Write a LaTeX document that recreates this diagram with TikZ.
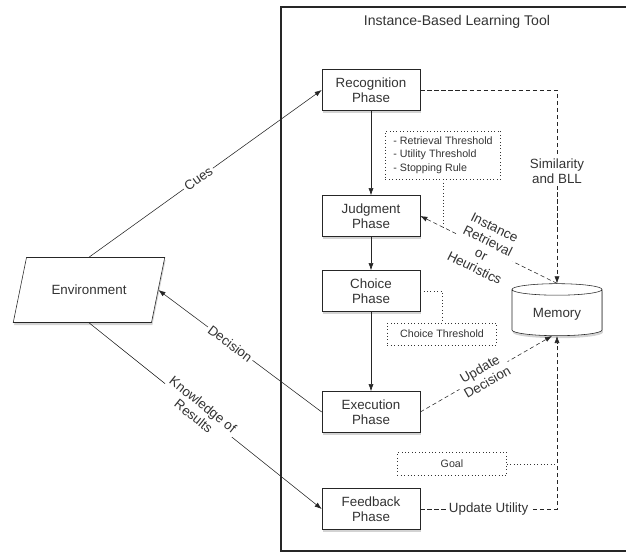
\documentclass[tikz,border=0pt]{standalone}
\usepackage{fontspec}
\setmainfont{Liberation Sans}
\usetikzlibrary{shapes.geometric,shadows,arrows.meta,calc}
\begin{document}
\begin{tikzpicture}[x=0.025cm,y=-0.025cm,
        font=\fontsize{9.5}{10.7}\selectfont, text=black!80,
        phase/.style={draw=black!85, fill=white, align=center, minimum width=2.45cm, minimum height=1.025cm,
            drop shadow={opacity=0.35, shadow xshift=0.6pt, shadow yshift=-1.8pt}},
        envbox/.style={trapezium, trapezium left angle=65, trapezium right angle=115, trapezium stretches=true,
            draw=black!85, fill=white, minimum width=3.8cm, minimum height=1.625cm,
            drop shadow={opacity=0.35, shadow xshift=0.6pt, shadow yshift=-1.8pt}},
        store/.style={cylinder, shape border rotate=90, aspect=0.2, draw=black!85, fill=white,
            minimum width=2.25cm, minimum height=1.3cm,
            drop shadow={opacity=0.35, shadow xshift=0.6pt, shadow yshift=-1.8pt}},
        note/.style={draw=black!80, dotted, font=\fontsize{7.6}{9.6}\selectfont, inner sep=2pt},
        flow/.style={draw=black!85, -{Latex[length=5pt,width=3.6pt]}},
        link/.style={draw=black!85, dash pattern=on 3pt off 2pt, -{Latex[length=5pt,width=3.6pt]}},
        hint/.style={draw=black!80, dotted},
        lbl/.style={fill=white, inner sep=1.5pt, align=center}]
    \useasboundingbox (0,0) rectangle (626,556);
    \draw[black!85, line width=0.8pt] (626,7) -- (281,7) -- (281,551) -- (626,551);
    \node[font=\fontsize{10}{12}\selectfont] (title) at (457,22) {Instance-Based Learning Tool};

    \node[phase] (recog)  at (371,90)  {Recognition\\Phase};
    \node[phase] (judg)   at (371,216) {Judgment\\Phase};
    \node[phase] (choice) at (371,291) {Choice\\Phase};
    \node[phase] (exec)   at (371,412) {Execution\\Phase};
    \node[phase] (feed)   at (371,509) {Feedback\\Phase};
    \node[envbox] (env)   at (89,290)  {Environment};
    \node[store] (memory) at (557,314) {Memory};

    \node[note, minimum width=2.875cm, minimum height=1.2cm, align=left] (rules) at (443,155)
        {- Retrieval Threshold\\- Utility Threshold\\- Stopping Rule};
    \node[note, minimum width=2.725cm, minimum height=0.55cm] (thresh) at (442,334) {Choice Threshold};
    \node[note, minimum width=2.725cm, minimum height=0.575cm] (goal) at (452,464) {Goal};

    \draw[flow] (recog) -- (judg);
    \draw[flow] (judg) -- (choice);
    \draw[flow] (choice) -- (exec);
    \draw[flow] (env.north) -- node[pos=0.47, sloped, lbl] {Cues} (recog.west);
    \draw[flow] (exec.west) -- node[pos=0.56, sloped, lbl] {Decision} (env.east);
    \draw[flow] (env.south) -- node[pos=0.47, sloped, lbl] {Knowledge of\\Results} (feed.west);

    \draw[link] (recog.east) -| node[pos=0.71, lbl] {Similarity\\and BLL} (memory.north);
    \draw[link] (memory.north) -- node[pos=0.53, sloped, lbl] {Instance\\Retrieval\\or\\Heuristics}
        coordinate[pos=0.83] (hook) (judg.east);
    \draw[link] (exec.east) -- node[pos=0.48, sloped, lbl] {Update\\Decision} ($(memory.south)+(-5,0)$);
    \draw[link] (feed.east) -| node[pos=0.25, lbl] {Update Utility} (memory.south);

    \draw[hint] (rules.south) -- (rules.south |- hook);
    \draw[hint] (choice.east) -| (thresh.north);
    \draw[hint] (goal.east) -- (goal.east -| memory.south);
\end{tikzpicture}
\end{document}
